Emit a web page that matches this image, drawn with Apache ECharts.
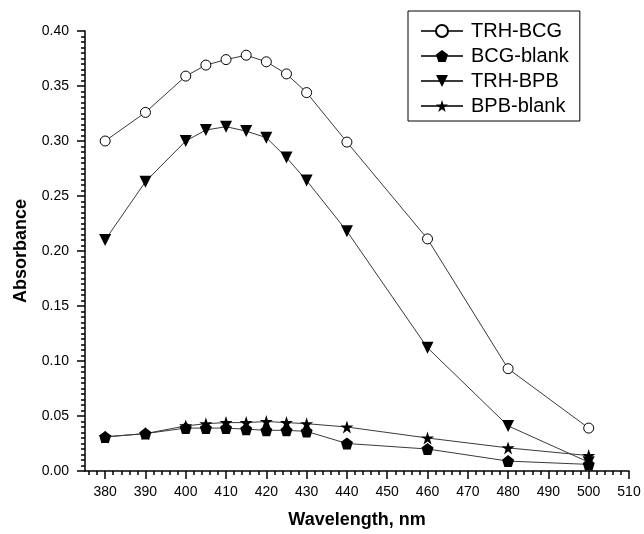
<!DOCTYPE html>
<html>
<head>
<meta charset="utf-8">
<script src="https://cdn.jsdelivr.net/npm/echarts@6/dist/echarts.min.js"></script>
<style>
html,body{margin:0;padding:0;background:#fff;}
#chart{width:644px;height:534px;}
</style>
</head>
<body>
<div id="chart"></div>
<script>
var wavelengths = [380, 390, 400, 405, 410, 415, 420, 425, 430, 440, 460, 480, 500];
var trhBcg   = [0.300, 0.326, 0.359, 0.369, 0.374, 0.378, 0.372, 0.361, 0.344, 0.299, 0.211, 0.093, 0.039];
var bcgBlank = [0.031, 0.034, 0.039, 0.039, 0.039, 0.038, 0.037, 0.037, 0.036, 0.025, 0.020, 0.009, 0.006];
var trhBpb   = [0.210, 0.263, 0.300, 0.310, 0.313, 0.309, 0.303, 0.285, 0.264, 0.218, 0.112, 0.041, 0.008];
var bpbBlank = [0.031, 0.034, 0.041, 0.043, 0.044, 0.044, 0.045, 0.044, 0.043, 0.040, 0.030, 0.021, 0.014];
var seriesNames = ['TRH-BCG', 'BCG-blank', 'TRH-BPB', 'BPB-blank'];
var xMajorTicks = [380, 390, 400, 410, 420, 430, 440, 450, 460, 470, 480, 490, 500, 510];
var xMinorTicks = [];
for (var t = 376; t <= 510; t += 2) xMinorTicks.push(t);

var FONT = '"Liberation Sans", Arial, sans-serif';
var PENTAGON = 'path://M50,0 L97.55,34.55 L79.39,90.45 L20.61,90.45 L2.45,34.55 Z';
var STAR = 'path://M50,0 L61.23,34.55 L97.55,34.55 L68.16,55.9 L79.39,90.45 L50,69.1 L20.61,90.45 L31.84,55.9 L2.45,34.55 L38.77,34.55 Z';
var TRI_DOWN = 'path://M0,0 L10,0 L5,9 Z';

function pairs(vals) {
  return wavelengths.map(function (w, i) { return [w, vals[i]]; });
}
function mk(name, vals, symbol, size, fill) {
  return {
    name: name,
    type: 'line',
    xAxisIndex: 0,
    data: pairs(vals),
    symbol: symbol,
    symbolSize: size,
    showAllSymbol: true,
    lineStyle: { color: '#3a3a3a', width: 1 },
    itemStyle: { color: fill, borderColor: '#000', borderWidth: fill === '#fff' ? 1 : 0 },
    emphasis: { disabled: true },
    animation: false
  };
}

var chart = echarts.init(document.getElementById('chart'), null, { renderer: 'canvas' });
chart.setOption({
  animation: false,
  backgroundColor: '#fff',
  grid: { left: 85, right: 15, top: 31, bottom: 63, containLabel: false, outerBoundsMode: 'none' },
  legend: {
    data: seriesNames,
    orient: 'vertical',
    left: 408,
    top: 11,
    padding: [10, 11, 5, 12],
    itemGap: 5,
    itemWidth: 42,
    itemHeight: 15,
    borderColor: '#000',
    borderWidth: 1,
    textStyle: { fontFamily: FONT, fontSize: 20, color: '#000', padding: [0, 0, 0, 3] }
  },
  xAxis: [{
    type: 'value',
    min: 375,
    max: 510,
    name: 'Wavelength, nm',
    nameLocation: 'middle',
    nameGap: 40,
    nameTextStyle: { fontFamily: FONT, fontSize: 18, fontWeight: 'bold', color: '#000' },
    axisLine: { show: true, lineStyle: { color: '#000', width: 1.5 } },
    axisTick: { show: true, customValues: xMajorTicks, length: 8, inside: false, lineStyle: { color: '#000', width: 1.5 } },
    axisLabel: { show: true, customValues: xMajorTicks, margin: 14, fontFamily: FONT, fontSize: 14, color: '#000' },
    splitLine: { show: false }
  }, {
    type: 'value',
    min: 375,
    max: 510,
    position: 'bottom',
    axisLine: { show: false },
    axisTick: { show: true, customValues: xMinorTicks, length: 4, lineStyle: { color: '#000', width: 1.5 } },
    axisLabel: { show: false },
    splitLine: { show: false }
  }],
  yAxis: {
    type: 'value',
    min: 0,
    max: 0.4,
    interval: 0.05,
    name: 'Absorbance',
    nameLocation: 'middle',
    nameGap: 55,
    nameTextStyle: { fontFamily: FONT, fontSize: 18, fontWeight: 'bold', color: '#000' },
    axisLine: { show: true, lineStyle: { color: '#000', width: 1.5 } },
    axisTick: { show: true, length: 8, lineStyle: { color: '#000', width: 1.5 } },
    minorTick: { show: true, splitNumber: 10, length: 4, lineStyle: { color: '#000', width: 1.5 } },
    axisLabel: { margin: 16, fontFamily: FONT, fontSize: 14, color: '#000', formatter: function (v) { return v.toFixed(2); } },
    splitLine: { show: false },
    minorSplitLine: { show: false }
  },
  series: [
    mk('TRH-BCG', trhBcg, 'circle', 10, '#fff'),
    mk('BCG-blank', bcgBlank, PENTAGON, 12, '#000'),
    mk('TRH-BPB', trhBpb, TRI_DOWN, 12, '#000'),
    mk('BPB-blank', bpbBlank, STAR, 13, '#000')
  ]
});
</script>
</body>
</html>
